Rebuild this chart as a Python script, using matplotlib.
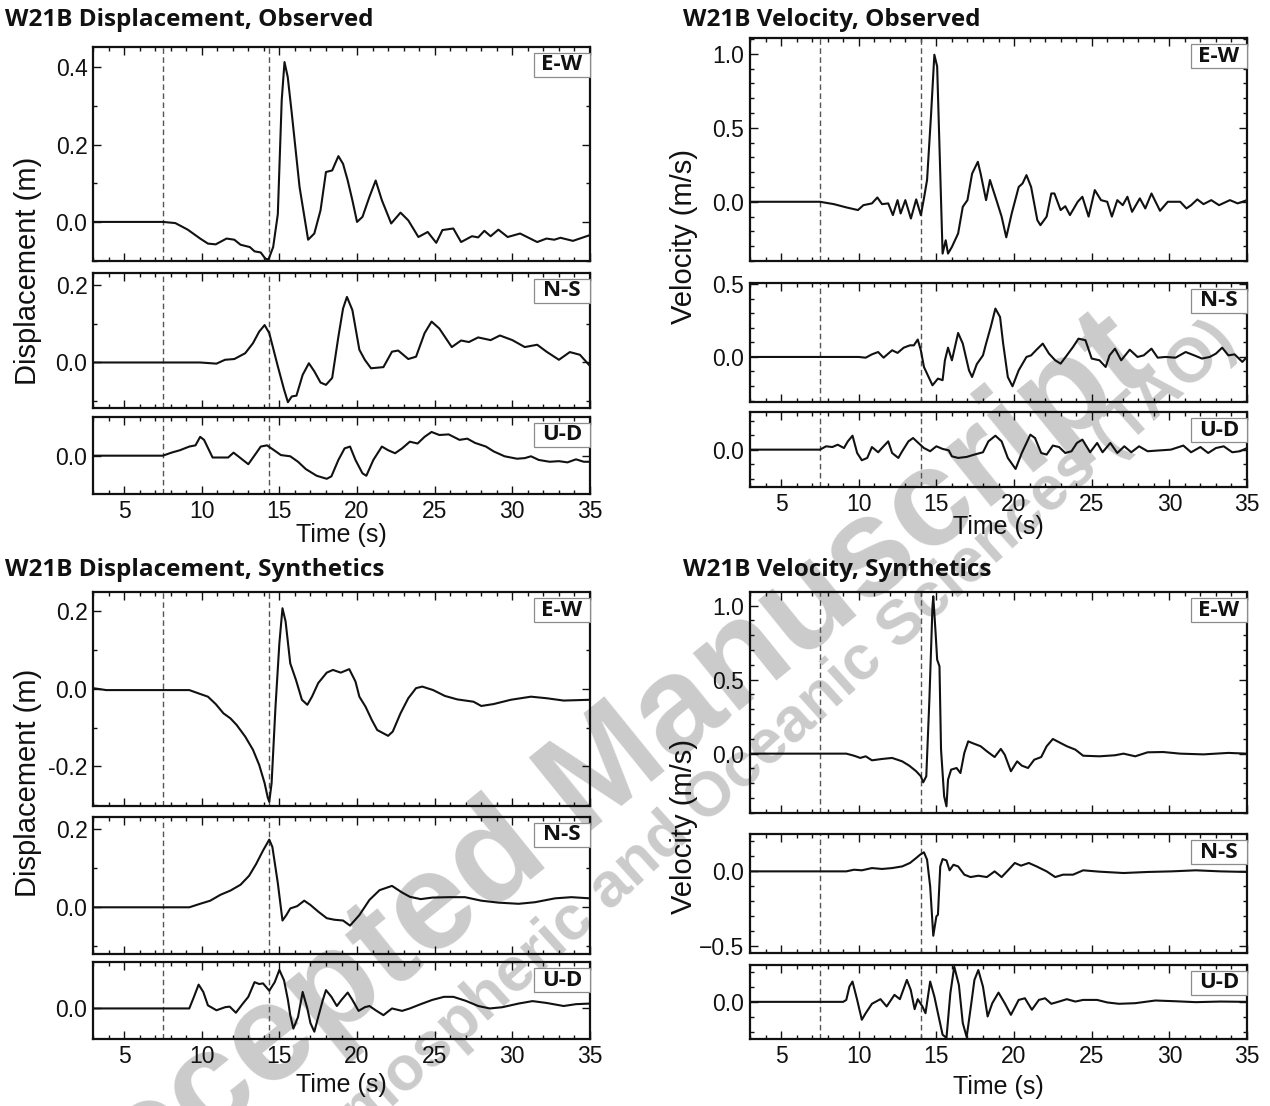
import matplotlib
matplotlib.use("Agg")
import matplotlib.pyplot as plt
from matplotlib.patches import Rectangle
from matplotlib.ticker import MultipleLocator, FuncFormatter

plt.rcParams['font.family'] = ['Liberation Sans', 'DejaVu Sans']

# ---------------- traces (time in s) ----------------
# displacement, observed
t_dobs_ew = [3, 7.5, 8.3, 9.1, 9.9, 10.4, 10.9, 11.6, 12.1, 12.5, 13.1, 13.4, 13.8, 14.1, 14.3, 14.6,
             14.9, 15.15, 15.33, 15.54, 15.8, 16.3, 16.85, 17.25, 17.65, 18.0, 18.4, 18.8, 19.1, 19.4,
             19.7, 20.0, 20.35, 20.8, 21.2, 21.6, 22.2, 22.8, 23.3, 23.95, 24.55, 25.1, 25.5, 26.2,
             26.7, 27.4, 27.8, 28.2, 28.6, 29.1, 29.7, 30.5, 31.6, 32.2, 32.7, 33.1, 33.9, 35]
dobs_ew = [0, 0, -0.003, -0.02, -0.043, -0.056, -0.058, -0.043, -0.046, -0.059, -0.065, -0.076, -0.079,
           -0.095, -0.097, -0.065, 0.02, 0.314, 0.413, 0.374, 0.28, 0.09, -0.046, -0.03, 0.03, 0.129,
           0.133, 0.17, 0.15, 0.107, 0.056, 0.0, 0.013, 0.065, 0.107, 0.056, -0.004, 0.024, 0.004,
           -0.039, -0.026, -0.054, -0.021, -0.017, -0.052, -0.037, -0.04, -0.023, -0.037, -0.02,
           -0.039, -0.03, -0.052, -0.043, -0.046, -0.041, -0.049, -0.034]

t_dobs_ns = [3, 9.9, 10.95, 11.5, 12.1, 12.8, 13.3, 13.7, 14.05, 14.35, 14.9, 15.3, 15.55, 15.8, 16.1,
             16.5, 16.9, 17.25, 17.65, 18.0, 18.4, 18.8, 19.1, 19.35, 19.7, 20.15, 20.5, 20.9, 21.7,
             22.25, 22.65, 23.3, 23.8, 24.35, 24.8, 25.3, 25.8, 26.1, 26.7, 27.2, 27.8, 28.6, 29.2,
             30.0, 30.8, 31.6, 32.2, 33.0, 33.7, 34.35, 35]
dobs_ns = [0, 0, -0.003, 0.007, 0.009, 0.024, 0.05, 0.08, 0.097, 0.076, -0.01, -0.07, -0.103, -0.088,
           -0.086, -0.032, -0.002, -0.023, -0.052, -0.058, -0.04, 0.067, 0.14, 0.17, 0.136, 0.033,
           0.007, -0.015, -0.012, 0.028, 0.031, 0.009, 0.015, 0.076, 0.106, 0.088, 0.058, 0.04, 0.057,
           0.053, 0.065, 0.058, 0.07, 0.058, 0.04, 0.046, 0.028, 0.007, 0.027, 0.02, -0.009]

t_dobs_ud = [3, 7.5, 8.05, 8.6, 9.2, 9.6, 9.9, 10.15, 10.7, 11.3, 11.7, 12.05, 12.5, 13.0, 13.5, 13.8,
             14.2, 14.6, 15.1, 15.7, 16.2, 16.7, 17.4, 18.05, 18.35, 18.8, 19.2, 19.55, 19.9, 20.35,
             20.6, 21.05, 21.6, 22.0, 22.45, 22.9, 23.4, 23.9, 24.35, 24.8, 25.3, 25.9, 26.6, 27.1,
             27.6, 28.3, 28.8, 29.5, 30.3, 30.8, 31.2, 31.7, 32.4, 33.0, 33.55, 34.1, 34.6, 35]
dobs_ud = [0, 0, 0.005, 0.009, 0.015, 0.017, 0.031, 0.026, -0.003, -0.003, -0.003, 0.005, -0.004,
           -0.014, 0.004, 0.015, 0.017, 0.01, 0.001, -0.001, -0.01, -0.022, -0.033, -0.038, -0.034,
           -0.007, 0.012, 0.015, -0.007, -0.029, -0.033, -0.007, 0.015, 0.009, 0.004, 0.012, 0.023,
           0.02, 0.031, 0.039, 0.034, 0.035, 0.026, 0.028, 0.021, 0.015, 0.007, -0.001, -0.005,
           -0.004, -0.001, -0.007, -0.01, -0.009, -0.011, -0.006, -0.01, -0.01]

# velocity, observed
t_vobs_ew = [3, 7.5, 8.4, 9.2, 9.95, 10.3, 10.85, 11.2, 11.5, 11.9, 12.2, 12.5, 12.7, 13.0, 13.36, 13.7,
             14.0, 14.2, 14.4, 14.65, 14.87, 15.05, 15.2, 15.4, 15.6, 15.75, 16.0, 16.4, 16.7, 17.0,
             17.3, 17.67, 17.85, 18.2, 18.45, 18.9, 19.2, 19.5, 19.85, 20.3, 20.55, 20.8, 21.1, 21.5,
             21.7, 22.1, 22.4, 22.6, 23.0, 23.3, 23.6, 24.1, 24.4, 24.8, 25.2, 25.6, 26.0, 26.3, 26.65,
             27.0, 27.3, 27.6, 28.1, 28.45, 28.85, 29.4, 29.9, 30.7, 31.1, 31.4, 31.8, 32.2, 32.7,
             33.2, 33.9, 34.4, 35]
vobs_ew = [0, 0, -0.016, -0.038, -0.056, -0.023, -0.011, 0.029, -0.016, -0.011, -0.09, 0.011, -0.079,
           0.011, -0.113, 0.016, -0.09, 0.023, 0.147, 0.575, 0.993, 0.914, 0.372, -0.35, -0.26, -0.35,
           -0.305, -0.214, -0.034, 0.011, 0.19, 0.27, 0.19, 0.011, 0.147, 0.0, -0.1, -0.24, -0.079,
           0.1, 0.124, 0.18, 0.1, -0.124, -0.158, -0.1, 0.056, 0.056, -0.056, -0.03, -0.09, 0.0, 0.034,
           -0.1, 0.079, 0.011, 0.0, -0.1, 0.011, -0.023, 0.034, -0.068, 0.023, -0.045, 0.056, -0.061,
           0.0, 0.0, -0.045, -0.023, 0.016, -0.016, 0.011, -0.023, 0.011, -0.011, 0.011]

t_vobs_ns = [3, 7.5, 10.0, 10.45, 10.85, 11.25, 11.6, 12.15, 12.5, 12.9, 13.3, 13.55, 13.8, 14.0, 14.2,
             14.5, 14.75, 15.1, 15.4, 15.55, 15.75, 16.0, 16.4, 16.7, 17.1, 17.3, 17.6, 18.0, 18.2,
             18.5, 18.8, 19.1, 19.3, 19.6, 19.9, 20.3, 20.55, 20.8, 21.1, 21.45, 21.85, 22.25, 22.65,
             23.0, 23.4, 23.8, 24.15, 24.6, 25.0, 25.5, 25.9, 26.15, 26.5, 26.9, 27.45, 27.95, 28.35,
             28.85, 29.25, 29.75, 30.4, 31.05, 31.6, 32.1, 32.6, 33.0, 33.4, 33.8, 34.2, 34.7, 35]
vobs_ns = [0, 0, 0, -0.005, 0.018, 0.034, -0.005, 0.046, 0.028, 0.064, 0.08, 0.08, 0.12, 0.046, -0.069,
           -0.138, -0.195, -0.149, -0.16, -0.023, 0.064, -0.023, 0.165, 0.092, -0.092, -0.138, -0.05,
           0.011, 0.092, 0.206, 0.333, 0.275, 0.092, -0.138, -0.202, -0.092, -0.046, 0.0, 0.011, 0.05,
           0.092, 0.023, -0.023, -0.046, 0.011, 0.069, 0.126, 0.115, -0.011, -0.023, -0.069, 0.011,
           0.057, -0.023, 0.05, 0.0, 0.011, 0.057, -0.005, 0.0, -0.005, 0.034, 0.011, -0.011, 0.0,
           0.023, 0.064, 0.011, 0.018, -0.034, 0.0]

t_vobs_ud = [3, 7.5, 7.9, 8.3, 8.65, 9.05, 9.3, 9.6, 9.9, 10.2, 10.55, 10.85, 11.25, 11.6, 11.9, 12.15,
             12.55, 12.8, 13.2, 13.5, 13.8, 14.2, 14.6, 15.0, 15.4, 15.8, 16.0, 16.4, 16.95, 17.45,
             18.0, 18.35, 18.8, 19.2, 19.6, 20.1, 20.5, 21.05, 21.35, 21.75, 22.1, 22.5, 22.9, 23.3,
             23.7, 24.05, 24.4, 24.9, 25.35, 25.7, 26.2, 26.65, 27.1, 27.55, 28.05, 28.6, 29.4, 30.1,
             30.9, 31.4, 32.0, 32.5, 33.0, 33.5, 34.05, 34.55, 35]
vobs_ud = [0, 0, 0.023, 0.018, 0.034, 0.011, 0.057, 0.096, -0.023, -0.073, -0.057, 0.018, -0.018,
           0.023, 0.057, -0.023, -0.057, -0.011, 0.057, 0.08, 0.05, 0.011, -0.011, 0.023, 0.005,
           -0.005, -0.046, -0.057, -0.05, -0.034, -0.018, 0.057, 0.096, 0.057, -0.057, -0.133,
           -0.023, 0.103, 0.08, -0.023, -0.034, 0.028, 0.018, -0.023, -0.011, 0.046, 0.069, -0.018,
           0.046, -0.018, 0.046, -0.023, 0.023, -0.018, 0.023, -0.011, -0.005, 0.0, 0.028, -0.018,
           0.018, -0.023, 0.011, 0.023, -0.018, -0.011, 0.011]

# displacement, synthetics
t_dsyn_ew = [3, 3.85, 9.2, 9.9, 10.4, 10.9, 11.4, 11.85, 12.25, 12.8, 13.3, 13.7, 14.05, 14.25, 14.35,
             14.5, 14.75, 15.0, 15.2, 15.4, 15.7, 16.07, 16.45, 16.8, 17.1, 17.5, 18.05, 18.45, 18.95,
             19.5, 19.9, 20.15, 20.55, 20.95, 21.3, 22.0, 22.3, 22.8, 23.3, 23.8, 24.2, 24.9, 25.65,
             26.45, 27.5, 28.0, 28.8, 29.9, 31.2, 32.2, 33.3, 35]
dsyn_ew = [0.002, -0.003, -0.003, -0.013, -0.02, -0.039, -0.063, -0.076, -0.093, -0.123, -0.157,
           -0.196, -0.243, -0.28, -0.291, -0.243, -0.046, 0.118, 0.208, 0.174, 0.066, 0.023, -0.028,
           -0.041, -0.02, 0.015, 0.042, 0.049, 0.042, 0.051, 0.019, -0.02, -0.046, -0.08, -0.106,
           -0.121, -0.11, -0.063, -0.024, 0.002, 0.006, -0.003, -0.018, -0.027, -0.033, -0.044,
           -0.039, -0.028, -0.02, -0.024, -0.03, -0.028]

t_dsyn_ns = [3, 9.2, 9.9, 10.55, 11.2, 11.85, 12.5, 13.05, 13.5, 13.95, 14.35, 14.55, 14.9, 15.2, 15.45,
             15.7, 16.15, 16.6, 17.0, 17.5, 18.05, 18.55, 19.1, 19.55, 20.15, 20.8, 21.45, 22.25, 22.9,
             23.4, 24.1, 24.85, 25.9, 26.95, 28.0, 29.1, 30.4, 31.45, 32.75, 33.8, 35]
dsyn_ns = [0, 0, 0.009, 0.017, 0.032, 0.043, 0.058, 0.081, 0.111, 0.146, 0.174, 0.155, 0.062, -0.034,
           -0.02, -0.003, 0.003, 0.017, 0.006, -0.011, -0.028, -0.032, -0.034, -0.047, -0.02, 0.019,
           0.044, 0.055, 0.038, 0.027, 0.021, 0.025, 0.026, 0.026, 0.017, 0.012, 0.009, 0.013, 0.023,
           0.026, 0.023]

t_dsyn_ud = [3, 9.2, 9.5, 9.8, 10.1, 10.4, 10.95, 11.5, 11.8, 12.2, 12.65, 13.0, 13.4, 13.7, 13.95,
             14.35, 14.7, 15.0, 15.3, 15.55, 15.7, 15.9, 16.2, 16.5, 16.8, 17.0, 17.25, 17.5, 17.8,
             18.0, 18.35, 18.7, 19.0, 19.4, 19.7, 20.1, 20.5, 20.8, 21.2, 21.7, 22.25, 22.9, 23.4,
             24.1, 24.85, 25.6, 26.2, 27.0, 27.8, 28.55, 29.35, 30.4, 31.3, 32.2, 33.3, 34.1, 35]
dsyn_ud = [0, 0, 0.019, 0.039, 0.027, 0.005, -0.003, 0.002, 0.003, -0.007, 0.008, 0.019, 0.043, 0.04,
           0.041, 0.029, 0.043, 0.063, 0.046, 0.014, -0.011, -0.033, -0.014, 0.027, 0.0, -0.024,
           -0.038, -0.014, 0.014, 0.03, 0.019, 0.004, 0.014, 0.026, 0.014, -0.004, 0.002, 0.004,
           -0.003, -0.011, 0.0, -0.004, 0.0, 0.007, 0.014, 0.019, 0.019, 0.0125, 0.004, 0.0, 0.002,
           0.008, 0.012, 0.009, 0.004, 0.007, 0.008]

# velocity, synthetics
t_vsyn_ew = [3, 9.2, 9.7, 10.1, 10.45, 10.85, 11.5, 12.15, 12.8, 13.25, 13.7, 14.0, 14.15, 14.35, 14.55,
             14.75, 14.8, 14.95, 15.05, 15.2, 15.3, 15.5, 15.65, 15.75, 15.95, 16.3, 16.55, 16.8,
             17.05, 17.4, 17.85, 18.25, 18.75, 19.15, 19.4, 19.8, 20.2, 20.5, 20.9, 21.3, 21.75, 22.1,
             22.5, 22.9, 23.4, 23.95, 24.45, 25.5, 26.5, 27.05, 27.8, 28.6, 29.6, 30.7, 32.2, 33.8, 35]
vsyn_ew = [0, 0, -0.014, -0.029, -0.018, -0.045, -0.036, -0.029, -0.052, -0.081, -0.119, -0.153,
           -0.194, -0.153, 0.365, 0.995, 1.063, 0.815, 0.635, 0.59, 0.027, -0.288, -0.356, -0.176,
           -0.108, -0.097, -0.131, 0.005, 0.083, 0.068, 0.05, 0.016, -0.023, 0.032, -0.007, -0.119,
           -0.052, -0.081, -0.097, -0.041, -0.023, 0.05, 0.099, 0.077, 0.05, 0.027, -0.014, -0.018,
           -0.011, 0.0, -0.018, 0.009, 0.011, 0.0, -0.005, 0.005, 0.0]

t_vsyn_ns = [3, 9.2, 9.7, 10.2, 10.85, 11.5, 12.15, 12.8, 13.3, 13.7, 13.95, 14.2, 14.4, 14.6, 14.8,
             15.0, 15.1, 15.25, 15.4, 15.65, 15.85, 16.1, 16.4, 16.8, 17.2, 17.7, 18.25, 18.75, 19.2,
             19.65, 20.05, 20.45, 20.95, 21.45, 22.1, 22.65, 23.15, 23.8, 24.45, 25.5, 27.05, 28.6,
             30.15, 31.7, 33.3, 35]
vsyn_ns = [0, 0, 0.011, 0.007, 0.022, 0.016, 0.022, 0.033, 0.056, 0.089, 0.111, 0.127, 0.078, -0.1,
           -0.429, -0.3, -0.289, 0.033, 0.082, 0.073, 0.007, 0.044, 0.033, -0.022, -0.038, -0.029,
           -0.038, 0.0, -0.038, 0.011, 0.056, 0.038, 0.056, 0.033, 0.0, -0.038, -0.022, -0.022, 0.007,
           -0.002, -0.011, -0.004, 0.0, 0.007, 0.0, -0.004]

t_vsyn_ud = [3, 9.0, 9.2, 9.4, 9.6, 9.9, 10.2, 10.45, 10.85, 11.4, 11.8, 12.3, 12.65, 13.1, 13.35, 13.6,
             13.8, 14.1, 14.3, 14.6, 14.87, 15.1, 15.4, 15.65, 15.9, 16.15, 16.45, 16.7, 16.95, 17.25,
             17.45, 17.7, 18.0, 18.3, 18.6, 19.0, 19.4, 19.8, 20.3, 20.7, 21.15, 21.6, 22.0, 22.4,
             22.9, 23.4, 23.95, 24.45, 25.35, 26.0, 26.75, 27.8, 29.1, 30.4, 31.7, 33.3, 35]
vsyn_ud = [0, 0, 0.013, 0.102, 0.136, 0.013, -0.12, -0.076, -0.013, 0.018, -0.031, 0.047, 0.018,
           0.147, 0.08, -0.049, 0.018, -0.031, -0.076, 0.136, 0.036, -0.076, -0.22, -0.242, 0.058,
           0.236, 0.113, -0.142, -0.236, -0.009, 0.147, 0.213, 0.102, -0.098, -0.009, 0.062, -0.009,
           -0.087, 0.013, 0.024, -0.053, 0.013, 0.024, -0.013, 0.002, 0.018, 0.002, 0.013, 0.013,
           -0.004, -0.013, -0.009, 0.009, 0.004, -0.002, 0.002, 0.0]

components = ["E-W", "N-S", "U-D"]
picks_disp = [7.5, 14.3]
picks_vel = [7.5, 14.0]

# ---------------- layout (pixels of a 1270 x 1106 canvas) ----------------
W, H = 1270, 1106


def rect(x0, y0, x1, y1):
    return [x0 / W, 1 - y1 / H, (x1 - x0) / W, (y1 - y0) / H]


def fmt(minus):
    def f(v, pos):
        if abs(v) < 1e-9:
            return "0.0"
        return f"{v:.1f}".replace("-", minus)
    return FuncFormatter(f)


groups = [
    dict(title="W21B Displacement, Observed", title_xy=(5, 20), ylabel="Displacement (m)",
         ylabel_xy=(28, 271), xlabel_y=535, x=(93, 590), rows=[(47, 261), (273, 408), (417, 494)],
         traces=[(t_dobs_ew, dobs_ew), (t_dobs_ns, dobs_ns), (t_dobs_ud, dobs_ud)],
         ylims=[(-0.101, 0.452), (-0.118, 0.232), (-0.063, 0.0636)],
         major=[0.2, 0.2, 0.2], minor=[0.1, 0.1, 0.1], picks=picks_disp, minus="-"),
    dict(title="W21B Velocity, Observed", title_xy=(683, 20), ylabel="Velocity (m/s)",
         ylabel_xy=(684, 237), xlabel_y=527, x=(750, 1247), rows=[(38, 261), (283, 402), (412, 487)],
         traces=[(t_vobs_ew, vobs_ew), (t_vobs_ns, vobs_ns), (t_vobs_ud, vobs_ud)],
         ylims=[(-0.4, 1.106), (-0.31, 0.509), (-0.257, 0.259)],
         major=[0.5, 0.5, 0.5], minor=[0.1, 0.1, 0.1], picks=picks_vel, minus="\u2212"),
    dict(title="W21B Displacement, Synthetics", title_xy=(5, 570), ylabel="Displacement (m)",
         ylabel_xy=(28, 783), xlabel_y=1085, x=(93, 590), rows=[(592, 806), (817, 954), (962, 1039)],
         traces=[(t_dsyn_ew, dsyn_ew), (t_dsyn_ns, dsyn_ns), (t_dsyn_ud, dsyn_ud)],
         ylims=[(-0.302, 0.25), (-0.12, 0.232), (-0.05, 0.076)],
         major=[0.2, 0.2, 0.2], minor=[0.1, 0.1, 0.1], picks=picks_disp, minus="-"),
    dict(title="W21B Velocity, Synthetics", title_xy=(683, 570), ylabel="Velocity (m/s)",
         ylabel_xy=(684, 826), xlabel_y=1087, x=(750, 1247), rows=[(592, 813), (834, 953), (965, 1039)],
         traces=[(t_vsyn_ew, vsyn_ew), (t_vsyn_ns, vsyn_ns), (t_vsyn_ud, vsyn_ud)],
         ylims=[(-0.401, 1.092), (-0.544, 0.249), (-0.249, 0.247)],
         major=[0.5, 0.5, 0.5], minor=[0.1, 0.1, 0.1], picks=picks_vel, minus="\u2212"),
]

fig = plt.figure(figsize=(W / 100, H / 100), dpi=100)

BOLD = ['Open Sans', 'DejaVu Sans']
WM = '#cbcbcb'

# watermark, drawn beneath the transparent axes
fig.text(590 / W, 1 - 785 / H, "Accepted Manuscript", fontsize=100, fontweight='bold',
         color=WM, rotation=39, ha='center', va='center', rotation_mode='anchor', zorder=-1)
fig.text(1238 / W, 1 - 345 / H, "Terrestrial, Atmospheric and Oceanic Sciences (TAO)", fontsize=45,
         fontweight='bold', color=WM, rotation=42, ha='right', va='baseline',
         rotation_mode='anchor', zorder=-1)

for g in groups:
    x0, x1 = g['x']
    for i, (y0, y1) in enumerate(g['rows']):
        ax = fig.add_axes(rect(x0, y0, x1, y1))
        ax.set_facecolor('none')
        t, v = g['traces'][i]
        ax.plot(t, v, color='#111111', lw=1.5, zorder=3)
        for p in g['picks']:
            ax.axvline(p, color='#555555', lw=1.0, ls=(0, (4, 2.5)), zorder=2)
        ax.set_xlim(3, 35)
        ax.set_ylim(*g['ylims'][i])
        ax.xaxis.set_major_locator(MultipleLocator(5))
        ax.xaxis.set_minor_locator(MultipleLocator(1))
        ax.yaxis.set_major_locator(MultipleLocator(g['major'][i]))
        ax.yaxis.set_minor_locator(MultipleLocator(g['minor'][i]))
        ax.yaxis.set_major_formatter(fmt(g['minus']))
        ax.tick_params(which='both', direction='in', top=True, right=True, width=1.0,
                       labelsize=16.5, pad=4, colors='#111111')
        ax.tick_params(which='major', length=5.5)
        ax.tick_params(which='minor', length=3)
        for s in ax.spines.values():
            s.set_linewidth(1.6)
            s.set_color('#111111')
        if i < 2:
            ax.tick_params(labelbottom=False)
        # component tag in the upper right corner
        aw, ah = x1 - x0, y1 - y0
        bw, bh, inset = 56, 24, 6
        ax.add_patch(Rectangle((1 - bw / aw, 1 - (inset + bh) / ah), bw / aw, bh / ah,
                               transform=ax.transAxes, fc='white', ec='#8c8c8c', lw=0.9,
                               zorder=5, clip_on=False))
        ax.text(1 - bw / 2 / aw, 1 - (inset + bh / 2) / ah, components[i], transform=ax.transAxes,
                ha='center', va='center', fontsize=16, fontweight='bold', family=BOLD,
                color='#111111', zorder=6)
    fig.text((x0 + x1) / 2 / W, 1 - g['xlabel_y'] / H, "Time (s)", fontsize=18,
             ha='center', va='center', color='#111111')
    fig.text(g['ylabel_xy'][0] / W, 1 - g['ylabel_xy'][1] / H, g['ylabel'], fontsize=21,
             rotation=90, ha='center', va='center', color='#111111')
    fig.text(g['title_xy'][0] / W, 1 - g['title_xy'][1] / H, g['title'], fontsize=17.5,
             fontweight='bold', family=BOLD, ha='left', va='center', color='#111111')

fig.savefig("out.png", dpi=100)
